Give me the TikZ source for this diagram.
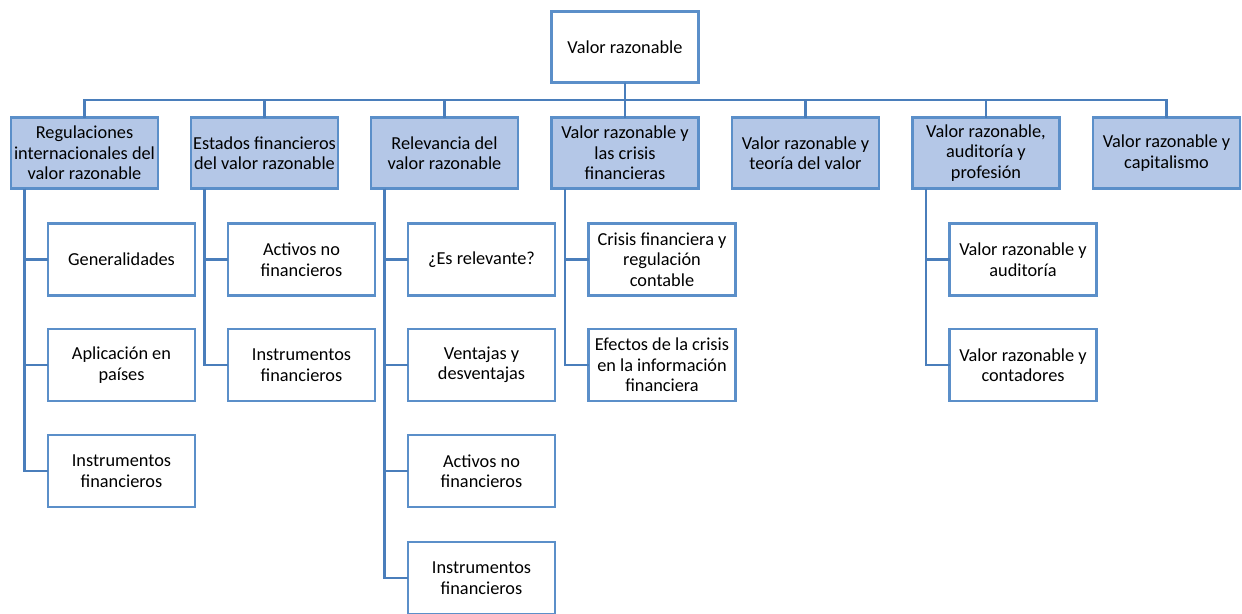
\documentclass[tikz,border=0pt]{standalone}
\usepackage{fontspec}
\setmainfont{Carlito}
\usetikzlibrary{calc}
\definecolor{boxline}{RGB}{91,143,201}
\definecolor{linkline}{RGB}{74,126,187}
\definecolor{headfill}{RGB}{180,199,231}
\begin{document}
\begin{tikzpicture}[x=1pt,y=-1pt,
  every node/.style={font=\fontsize{18.3}{20.5}\selectfont, align=center, inner sep=0pt, outer sep=0pt},
  topbox/.style={draw=boxline, line width=2.5pt, fill=white, minimum width=147pt, minimum height=71pt},
  headbox/.style={draw=boxline, line width=2.5pt, fill=headfill, minimum width=147pt, minimum height=71pt},
  subbox/.style={draw=boxline, line width=2.5pt, fill=white, minimum width=147pt, minimum height=72pt},
  link/.style={draw=linkline, line width=2.5pt}]
\useasboundingbox (0,0) rectangle (1242,613);
\clip (0,0) rectangle (1242,613);

% root
\node[topbox] (root) at (625,47) {Valor razonable};

% first level
\node[headbox] (h1) at (84.5,153) {Regulaciones\\internacionales del\\valor razonable};
\node[headbox] (h2) at (264.5,153) {Estados financieros\\del valor razonable};
\node[headbox] (h3) at (444.5,153) {Relevancia del\\valor razonable};
\node[headbox] (h4) at (625,153) {Valor razonable y\\las crisis\\financieras};
\node[headbox] (h5) at (805.5,153) {Valor razonable y\\teoría del valor};
\node[headbox] (h6) at (986,153) {Valor razonable,\\auditoría y\\profesión};
\node[headbox] (h7) at (1166.5,153) {Valor razonable y\\capitalismo};

% second level
\node[subbox] (a1) at (121.5,259.5) {Generalidades};
\node[subbox] (a2) at (121.5,365) {Aplicación en\\países};
\node[subbox] (a3) at (121.5,471) {Instrumentos\\financieros};

\node[subbox] (b1) at (301.5,259.5) {Activos no\\financieros};
\node[subbox] (b2) at (301.5,365) {Instrumentos\\financieros};

\node[subbox] (c1) at (481.5,259.5) {¿Es relevante?};
\node[subbox] (c2) at (481.5,365) {Ventajas y\\desventajas};
\node[subbox] (c3) at (481.5,471) {Activos no\\financieros};
\node[subbox] (c4) at (481.5,578) {Instrumentos\\financieros};

\node[subbox] (d1) at (662,259.5) {Crisis financiera y\\regulación\\contable};
\node[subbox] (d2) at (662,365) {Efectos de la crisis\\en la información\\financiera};

\node[subbox] (f1) at (1023,259.5) {Valor razonable y\\auditoría};
\node[subbox] (f2) at (1023,365) {Valor razonable y\\contadores};

% bus from root to first level
\foreach \h in {h1,h2,h3,h4,h5,h6,h7}
  \draw[link] (root.south) -- ++(0,17.5) -| (\h.north);

% spines to second level
\foreach \h/\c in {h1/a1,h1/a2,h1/a3,h2/b1,h2/b2,h3/c1,h3/c2,h3/c3,h3/c4,h4/d1,h4/d2,h6/f1,h6/f2}
  \draw[link] ([xshift=-60pt]\h.south) |- (\c.west);
\end{tikzpicture}
\end{document}
